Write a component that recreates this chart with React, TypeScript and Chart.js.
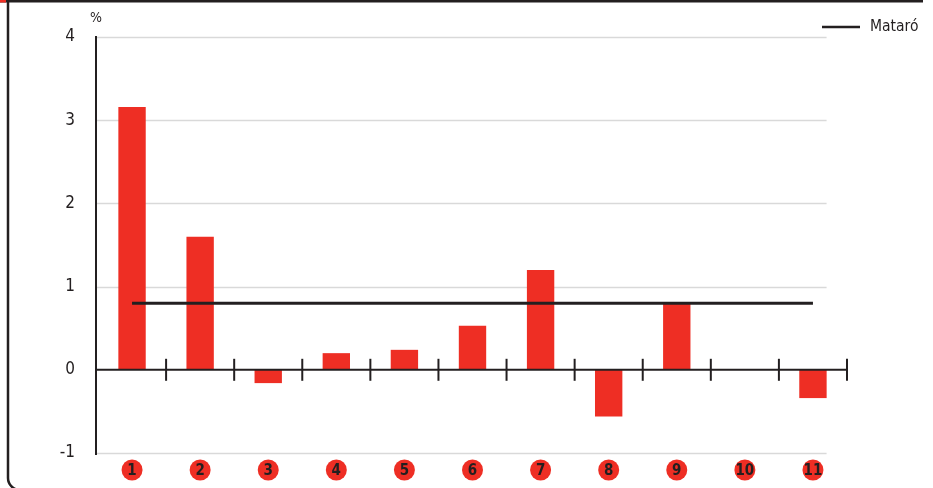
import React, { useEffect, useRef } from "react";
import { Chart, registerables } from "chart.js";

Chart.register(...registerables);

const categories = ["1", "2", "3", "4", "5", "6", "7", "8", "9", "10", "11"];
const values = [3.16, 1.6, -0.16, 0.2, 0.24, 0.53, 1.2, -0.56, 0.8, 0, -0.34];
const mataro = [0.8, 0.8, 0.8, 0.8, 0.8, 0.8, 0.8, 0.8, 0.8, 0.8, 0.8];
const yTicks = [-1, 0, 1, 2, 3, 4];
const unitLabel = "%";
const legendLabel = "Mataró";

const RED = "#ee2e24";
const DARK = "#231f20";
const GRID = "#d9d9d9";
const FONT = "'DejaVu Sans Condensed', 'Liberation Sans Narrow', 'DejaVu Sans', sans-serif";

const decoPlugin = {
  id: "deco",
  beforeDraw(chart: any) {
    const ctx = chart.ctx;
    const x = chart.scales.x;
    const y = chart.scales.y;
    const area = chart.chartArea;
    ctx.save();
    // frame
    ctx.strokeStyle = DARK;
    ctx.lineWidth = 3;
    ctx.beginPath();
    ctx.moveTo(0, 1);
    ctx.lineTo(923, 1);
    ctx.stroke();
    ctx.strokeStyle = RED;
    ctx.beginPath();
    ctx.moveTo(0, 1);
    ctx.lineTo(6, 1);
    ctx.stroke();
    ctx.strokeStyle = DARK;
    ctx.lineWidth = 2.5;
    ctx.beginPath();
    ctx.moveTo(8, 2);
    ctx.lineTo(8, 478);
    ctx.arcTo(8, 490, 20, 490, 12);
    ctx.lineTo(60, 490);
    ctx.stroke();
    // grid lines
    const cw = x.getPixelForValue(1) - x.getPixelForValue(0);
    const gridRight = x.getPixelForValue(categories.length - 1) + cw * 0.2;
    const axisX = area.left - 2;
    ctx.strokeStyle = GRID;
    ctx.lineWidth = 1.5;
    yTicks.forEach((v) => {
      if (v === 0) return;
      const py = Math.round(y.getPixelForValue(v)) + 0.5;
      ctx.beginPath();
      ctx.moveTo(axisX, py);
      ctx.lineTo(gridRight, py);
      ctx.stroke();
    });
    ctx.restore();
  },
  afterDatasetsDraw(chart: any) {
    const ctx = chart.ctx;
    const x = chart.scales.x;
    const y = chart.scales.y;
    const area = chart.chartArea;
    ctx.save();
    const cw = x.getPixelForValue(1) - x.getPixelForValue(0);
    const py0 = y.getPixelForValue(0);
    const axisX = area.left - 2;
    ctx.strokeStyle = DARK;
    // y axis line
    ctx.lineWidth = 2;
    ctx.beginPath();
    ctx.moveTo(axisX, y.getPixelForValue(4) - 1);
    ctx.lineTo(axisX, y.getPixelForValue(-1) + 2);
    ctx.stroke();
    // zero line with ticks
    ctx.beginPath();
    ctx.moveTo(axisX, py0);
    ctx.lineTo(area.right, py0);
    ctx.stroke();
    for (let i = 0; i < categories.length; i++) {
      const bx = x.getPixelForValue(i) + cw / 2;
      ctx.beginPath();
      ctx.moveTo(bx, py0 - 11);
      ctx.lineTo(bx, py0 + 11);
      ctx.stroke();
    }
    // category badges
    categories.forEach((c, i) => {
      const cx = x.getPixelForValue(i);
      const cy = area.bottom + 17;
      ctx.fillStyle = RED;
      ctx.beginPath();
      ctx.arc(cx, cy, 10.5, 0, Math.PI * 2);
      ctx.fill();
      ctx.fillStyle = DARK;
      ctx.font = `bold 15px ${FONT}`;
      ctx.textAlign = "center";
      ctx.textBaseline = "middle";
      ctx.fillText(c, cx, cy + 1);
    });
    // unit label
    ctx.fillStyle = DARK;
    ctx.font = `14px ${FONT}`;
    ctx.textAlign = "center";
    ctx.textBaseline = "middle";
    ctx.fillText(unitLabel, axisX, 18);
    // legend
    ctx.strokeStyle = DARK;
    ctx.lineWidth = 2.5;
    ctx.beginPath();
    ctx.moveTo(822, 27);
    ctx.lineTo(860, 27);
    ctx.stroke();
    ctx.font = `15.5px ${FONT}`;
    ctx.textAlign = "left";
    ctx.fillText(legendLabel, 870, 27);
    ctx.restore();
  },
};

export default function App() {
  const ref = useRef<HTMLCanvasElement>(null);
  useEffect(() => {
    if (!ref.current) return;
    const chart = new Chart(ref.current, {
      type: "bar",
      data: {
        labels: categories,
        datasets: [
          {
            type: "line",
            label: legendLabel,
            data: mataro,
            borderColor: DARK,
            borderWidth: 3,
            pointRadius: 0,
            fill: false,
            order: 0,
          } as any,
          {
            type: "bar",
            label: "values",
            data: values,
            backgroundColor: RED,
            borderWidth: 0,
            barPercentage: 0.402,
            categoryPercentage: 1,
            order: 1,
          },
        ],
      },
      options: {
        animation: false,
        responsive: false,
        maintainAspectRatio: false,
        layout: { padding: { left: 38, right: 86, top: 37, bottom: 35 } },
        plugins: { legend: { display: false }, tooltip: { enabled: false } },
        scales: {
          x: { display: false, offset: true },
          y: {
            min: -1,
            max: 4,
            afterFit: (s: any) => {
              s.width = 60;
            },
            afterBuildTicks: (s: any) => {
              s.ticks = yTicks.map((v) => ({ value: v }));
            },
            grid: { display: false, drawTicks: false },
            border: { display: false },
            ticks: {
              padding: 23,
              color: DARK,
              font: { family: FONT, size: 17 },
            },
          },
        },
      },
      plugins: [decoPlugin],
    });
    return () => chart.destroy();
  }, []);
  return (
    <div style={{ position: "fixed", left: 0, top: 0, width: 933, height: 488, background: "#fff" }}>
      <canvas ref={ref} width={933} height={488} style={{ width: 933, height: 488 }} />
    </div>
  );
}
